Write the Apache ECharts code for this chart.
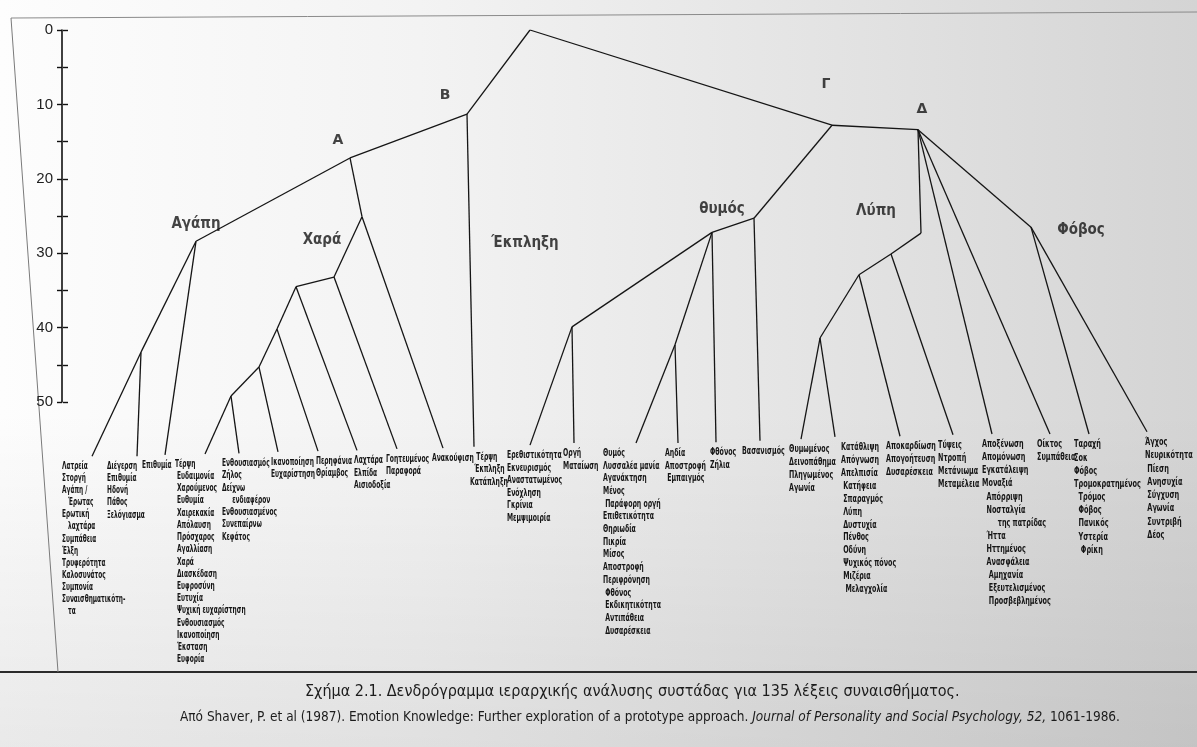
<!DOCTYPE html>
<html>
<head>
<meta charset="utf-8">
<script src="https://cdn.jsdelivr.net/npm/echarts/dist/echarts.min.js"></script>
<style>
  html, body { margin: 0; padding: 0; }
  body {
    width: 1197px; height: 747px; overflow: hidden;
    background:
      linear-gradient(to bottom, rgba(0,0,0,0) 0%, rgba(0,0,0,0) 55%, rgba(0,0,0,0.08) 100%),
      linear-gradient(to right, #fdfdfd 0%, #f3f3f3 35%, #e3e3e3 70%, #d4d4d4 100%);
  }
  #chart { width: 1197px; height: 747px; }
</style>
</head>
<body>
<div id="chart"></div>
<script>
// Internal nodes of the dendrogram: horizontal position (0–119.7) and fusion height
const nodeIds       = ['R', 'B', 'A', 'Agapi', 'Ag1', 'Chara', 'Ch1', 'Ch2', 'Ch3', 'Ch4', 'Ch5',
                       'G', 'D', 'Th1', 'Th2', 'Th3', 'Th4', 'Lp', 'Lc', 'Lb', 'La', 'F'];
const nodePositions = [53.0, 46.7, 35.0, 19.6, 14.1, 36.2, 33.4, 29.6, 27.7, 25.9, 23.1,
                       83.2, 91.8, 75.4, 71.2, 57.2, 67.5, 92.1, 89.1, 85.9, 82.0, 103.1];
const nodeHeights   = [0, 11.3, 17.2, 28.4, 43.3, 25.1, 33.2, 34.5, 40.2, 45.3, 49.2,
                       12.8, 13.4, 25.3, 27.2, 39.9, 42.3, 27.3, 30.1, 32.9, 41.4, 26.5];

// Leaves (word groups): position and height where each branch ends
const leafIds = ['latreia', 'diegersi', 'epithymia', 'terpsi', 'enthous', 'ikanop', 'perifania',
                 'laxtara', 'goiteym', 'anakoufisi', 'ekplixi', 'erethist', 'orgi', 'thymos',
                 'aidia', 'fthonos', 'vasanismos', 'thymomenos', 'katathlipsi', 'apokardiosi',
                 'typseis', 'apoxenosi', 'oiktos', 'tarachi', 'agchos'];
const leafPositions = [9.2, 13.7, 16.5, 20.5, 23.9, 27.8, 31.8, 35.7, 39.7, 44.3, 47.4, 53.0,
                       57.4, 63.6, 67.8, 71.6, 76.0, 80.1, 83.5, 90.0, 95.3, 99.2, 105.0, 108.9, 114.7];
const leafHeights = [57.3, 57.3, 57.1, 57.0, 56.9, 56.7, 56.6, 56.5, 56.3, 56.2, 56.0, 55.8,
                     55.5, 55.5, 55.5, 55.4, 55.2, 55.0, 54.7, 54.6, 54.4, 54.3, 54.3, 54.3, 54.0];
const leafWords = [
  ['Λατρεία', 'Στοργή', 'Αγάπη /', '   Έρωτας', 'Ερωτική', '   λαχτάρα', 'Συμπάθεια', 'Έλξη',
   'Τρυφερότητα', 'Καλοσυνάτος', 'Συμπονία', 'Συναισθηματικότη-', '   τα'],
  ['Διέγερση', 'Επιθυμία', 'Ηδονή', 'Πάθος', 'Ξελόγιασμα'],
  ['Επιθυμία'],
  ['Τέρψη', ' Ευδαιμονία', ' Χαρούμενος', ' Ευθυμία', ' Χαιρεκακία', ' Απόλαυση', ' Πρόσχαρος',
   ' Αγαλλίαση', ' Χαρά', ' Διασκέδαση', ' Ευφροσύνη', ' Ευτυχία', ' Ψυχική ευχαρίστηση',
   ' Ενθουσιασμός', ' Ικανοποίηση', ' Έκσταση', ' Ευφορία'],
  ['Ενθουσιασμός', 'Ζήλος', 'Δείχνω', '     ενδιαφέρον', 'Ενθουσιασμένος', 'Συνεπαίρνω', 'Κεφάτος'],
  ['Ικανοποίηση', 'Ευχαρίστηση'],
  ['Περηφάνια', 'Θρίαμβος'],
  ['Λαχτάρα', 'Ελπίδα', 'Αισιοδοξία'],
  ['Γοητευμένος', 'Παραφορά'],
  ['Ανακούφιση'],
  ['   Τέρψη', '  Έκπληξη', 'Κατάπληξη'],
  ['Ερεθιστικότητα', 'Εκνευρισμός', 'Αναστατωμένος', 'Ενόχληση', 'Γκρίνια', 'Μεμψιμοιρία'],
  ['Οργή', 'Ματαίωση'],
  ['Θυμός', 'Λυσσαλέα μανία', 'Αγανάκτηση', 'Μένος', ' Παράφορη οργή', 'Επιθετικότητα',
   'Θηριωδία', 'Πικρία', 'Μίσος', 'Αποστροφή', 'Περιφρόνηση', ' Φθόνος', ' Εκδικητικότητα',
   ' Αντιπάθεια', ' Δυσαρέσκεια'],
  ['Αηδία', 'Αποστροφή', ' Εμπαιγμός'],
  ['Φθόνος', 'Ζήλια'],
  ['Βασανισμός'],
  ['Θυμωμένος', 'Δεινοπάθημα', 'Πληγωμένος', 'Αγωνία'],
  ['Κατάθλιψη', 'Απόγνωση', 'Απελπισία', ' Κατήφεια', ' Σπαραγμός', ' Λύπη', ' Δυστυχία',
   ' Πένθος', ' Οδύνη', ' Ψυχικός πόνος', ' Μιζέρια', '  Μελαγχολία'],
  ['Αποκαρδίωση', 'Απογοήτευση', 'Δυσαρέσκεια'],
  ['Τύψεις', 'Ντροπή', 'Μετάνιωμα', 'Μεταμέλεια'],
  ['Αποξένωση', 'Απομόνωση', 'Εγκατάλειψη', 'Μοναξιά', '  Απόρριψη', '  Νοσταλγία',
   '       της πατρίδας', '  Ήττα', '  Ηττημένος', '  Ανασφάλεια', '   Αμηχανία', '   Εξευτελισμένος',
   '   Προσβεβλημένος'],
  ['Οίκτος', 'Συμπάθεια'],
  ['Ταραχή', 'Σοκ', 'Φόβος', 'Τρομοκρατημένος', '  Τρόμος', '  Φόβος', '  Πανικός', '  Υστερία', '   Φρίκη'],
  ['Άγχος', 'Νευρικότητα', ' Πίεση', ' Ανησυχία', ' Σύγχυση', ' Αγωνία', ' Συντριβή', ' Δέος']
];

// Parent → child links
const edges = [
  ['R', 'B'], ['R', 'G'],
  ['B', 'A'], ['B', 'ekplixi'],
  ['A', 'Agapi'], ['A', 'Chara'],
  ['Agapi', 'Ag1'], ['Agapi', 'epithymia'],
  ['Ag1', 'latreia'], ['Ag1', 'diegersi'],
  ['Chara', 'Ch1'], ['Chara', 'anakoufisi'],
  ['Ch1', 'Ch2'], ['Ch1', 'goiteym'],
  ['Ch2', 'Ch3'], ['Ch2', 'laxtara'],
  ['Ch3', 'Ch4'], ['Ch3', 'perifania'],
  ['Ch4', 'Ch5'], ['Ch4', 'ikanop'],
  ['Ch5', 'terpsi'], ['Ch5', 'enthous'],
  ['G', 'Th1'], ['G', 'D'],
  ['Th1', 'Th2'], ['Th1', 'vasanismos'],
  ['Th2', 'Th3'], ['Th2', 'Th4'], ['Th2', 'fthonos'],
  ['Th3', 'erethist'], ['Th3', 'orgi'],
  ['Th4', 'thymos'], ['Th4', 'aidia'],
  ['D', 'Lp'], ['D', 'apoxenosi'], ['D', 'oiktos'], ['D', 'F'],
  ['Lp', 'Lc'], ['Lc', 'Lb'], ['Lc', 'typseis'],
  ['Lb', 'La'], ['Lb', 'apokardiosi'],
  ['La', 'thymomenos'], ['La', 'katathlipsi'],
  ['F', 'tarachi'], ['F', 'agchos']
];

// Names written next to the clusters
const clusterNodes = ['A', 'B', 'G', 'D', 'Agapi', 'Chara', 'B', 'Th2', 'Lp', 'F'];
const clusterNames = ['A', 'B', 'Γ', 'Δ', 'Αγάπη', 'Χαρά', 'Έκπληξη', 'θυμός', 'Λύπη', 'Φόβος'];

// Ruler ticks
const rulerMax = 50;
const rulerStep = 5;
const rulerLabelStep = 10;

// ---- geometry lookup
const pos = {};
nodeIds.forEach((id, i) => { pos[id] = [nodePositions[i], nodeHeights[i]]; });
leafIds.forEach((id, i) => { pos[id] = [leafPositions[i], leafHeights[i]]; });

const lineData = edges.map(([a, b]) => ({ coords: [pos[a], pos[b]] }));

// ---- layout / style settings
// horizontal shift (px) of each word column relative to the end of its branch
const wordOffsets = [-30, -30, -23, -30, -17, -7, -2, -3, -11, -11, -4, -23,
                     -11, -33, -13, -6, -18, -12, 6, -14, -15, -10, -13, -15, -2];
// pixel offsets for cluster names
const nameOffsets = [[-12, -18], [-22, -19], [-6, -41], [4, -20], [0, -17],
                     [-40, 23], [58, 129], [10, -23], [-45, -22], [50, 3]];
const nameStyle = ['letter', 'letter', 'letter', 'letter', 'name', 'name', 'name', 'name', 'name', 'name'];

const wordFont = "'DejaVu Sans Condensed', 'Liberation Sans Narrow', 'Arial Narrow', sans-serif";
const xMax = 119.7;
const treeMax = 58;
const pxPerUnit = 7.44;

const chart = echarts.init(document.getElementById('chart'), null, { renderer: 'canvas' });

chart.setOption({
  backgroundColor: 'transparent',
  animation: false,
  title: [
    {
      text: 'Σχήμα 2.1. Δενδρόγραμμα ιεραρχικής ανάλυσης συστάδας για 135 λέξεις συναισθήματος.',
      left: 305, top: 684, padding: 0,
      textStyle: { fontFamily: wordFont, fontSize: 16, fontWeight: 'normal', color: '#1c1c1c' }
    },
    {
      text: '{n|Από Shaver, P. et al (1987). Emotion Knowledge: Further exploration of a prototype approach. }' +
            '{i|Journal of Personality and Social Psychology, 52,}{n| 1061-1986.}',
      left: 180, top: 710, padding: 0,
      textStyle: {
        fontWeight: 'normal',
        rich: {
          n: { fontFamily: wordFont, fontSize: 13.5, fontWeight: 'normal', color: '#1c1c1c' },
          i: { fontFamily: wordFont, fontSize: 13.5, fontWeight: 'normal', fontStyle: 'italic', color: '#1c1c1c' }
        }
      }
    }
  ],
  graphic: [
    { type: 'line', shape: { x1: 0, y1: 672, x2: 1197, y2: 672 }, style: { stroke: '#2b2b2b', lineWidth: 2 } },
    { type: 'line', shape: { x1: 11, y1: 18, x2: 1197, y2: 12 }, style: { stroke: '#8a8a8a', lineWidth: 1 } },
    { type: 'line', shape: { x1: 11, y1: 18, x2: 58, y2: 672 }, style: { stroke: '#7a7a7a', lineWidth: 1 } }
  ],
  grid: [
    { left: 62, top: 30, width: 1, height: rulerMax * pxPerUnit },
    { left: 0, top: 30, width: 1197, height: treeMax * pxPerUnit }
  ],
  xAxis: [
    { gridIndex: 0, type: 'value', show: false, min: 0, max: 1 },
    { gridIndex: 1, type: 'value', show: false, min: 0, max: xMax }
  ],
  yAxis: [
    {
      gridIndex: 0, type: 'value', inverse: true, min: 0, max: rulerMax, interval: rulerStep,
      position: 'left',
      axisLine: { show: true, lineStyle: { color: '#111', width: 1.6 } },
      axisTick: { show: true, length: 5, lineStyle: { color: '#111', width: 1.4 } },
      axisLabel: {
        margin: 9, fontSize: 15, color: '#1e1e1e',
        fontFamily: "'Liberation Sans', Arial, sans-serif",
        formatter: v => (v % rulerLabelStep === 0 ? String(v) : '')
      },
      splitLine: { show: false }
    },
    {
      gridIndex: 0, type: 'value', inverse: true, min: 0, max: rulerMax, interval: rulerStep,
      position: 'right',
      axisLine: { show: false },
      axisTick: { show: true, length: 5, lineStyle: { color: '#111', width: 1.4 } },
      axisLabel: { show: false },
      splitLine: { show: false }
    },
    { gridIndex: 1, type: 'value', inverse: true, min: 0, max: treeMax, show: false }
  ],
  series: [
    {
      type: 'lines',
      coordinateSystem: 'cartesian2d',
      xAxisIndex: 1, yAxisIndex: 2,
      silent: true,
      lineStyle: { color: '#151515', width: 1.3, opacity: 1, curveness: 0 },
      data: lineData
    },
    {
      // word lists hanging under each branch end (narrow type)
      type: 'custom',
      coordinateSystem: 'cartesian2d',
      xAxisIndex: 1, yAxisIndex: 2,
      silent: true,
      clip: false,
      data: leafIds.map((id, i) => [leafPositions[i], leafHeights[i]]),
      renderItem: (params, api) => {
        const i = params.dataIndex;
        const p = api.coord([api.value(0), api.value(1)]);
        // the page is printed slightly larger towards the right
        const t = api.value(0) / xMax;
        return {
          type: 'text',
          x: p[0] + wordOffsets[i],
          y: p[1] + 4,
          scaleX: 0.64 + 0.055 * t,
          style: {
            text: leafWords[i].join('\n'),
            fontFamily: wordFont,
            fontWeight: 'bold',
            fontSize: 10 + 0.6 * t,
            lineHeight: 12 + 1.3 * t,
            fill: '#151515',
            align: 'left',
            verticalAlign: 'top'
          }
        };
      }
    },
    {
      type: 'scatter',
      xAxisIndex: 1, yAxisIndex: 2,
      silent: true,
      symbolSize: 1,
      itemStyle: { color: 'rgba(0,0,0,0)' },
      data: clusterNodes.map((id, i) => ({
        value: pos[id],
        label: {
          show: true,
          position: 'inside',
          offset: nameOffsets[i],
          formatter: clusterNames[i],
          fontFamily: nameStyle[i] === 'letter'
            ? "'DejaVu Sans', Arial, sans-serif"
            : "'DejaVu Sans Condensed', 'Liberation Sans Narrow', sans-serif",
          fontWeight: 'bold',
          fontSize: nameStyle[i] === 'letter' ? 14 : 15,
          color: '#151515'
        }
      }))
    }
  ]
});
</script>
</body>
</html>
